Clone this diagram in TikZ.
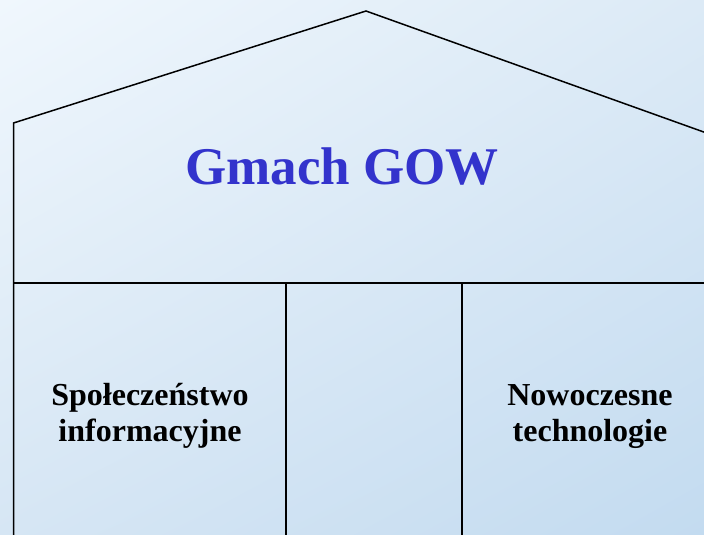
\documentclass[tikz,border=0pt]{standalone}
\usepackage{fontspec}
\setmainfont{Liberation Serif}
\usetikzlibrary{shadings}
\definecolor{bgtl}{HTML}{F0F7FD}
\definecolor{bgtr}{HTML}{DCEAF6}
\definecolor{bgbl}{HTML}{D6E6F4}
\definecolor{bgbr}{HTML}{C3DBF0}
\definecolor{titleblue}{HTML}{3333CC}
\begin{document}
\begin{tikzpicture}[x=1pt, y=-1pt]
			% Define styles for the walls and labels
			\tikzstyle{wall} = [draw=black, line width=1.5pt]
			\tikzstyle{title} = [font=\bfseries\fontsize{53}{60}\selectfont, text=titleblue]
			\tikzstyle{pillar} = [font=\bfseries\fontsize{32}{36}\selectfont, align=center]

			% Background
			\useasboundingbox (0, 0) rectangle (704, 535);
			\shade[upper left=bgtl, upper right=bgtr, lower left=bgbl, lower right=bgbr] (0, 0) rectangle (704, 535);

			% Define the corners of the house
			\coordinate (peak) at (366, 11);
			\coordinate (eaveL) at (13.5, 123);
			\coordinate (eaveR) at (740, 145);
			\coordinate (baseL) at (13.5, 540);
			\coordinate (floorL) at (13.5, 283);
			\coordinate (floorR) at (740, 283);
			\coordinate (colA) at (286, 283);
			\coordinate (colB) at (462, 283);
			\coordinate (colAb) at (286, 540);
			\coordinate (colBb) at (462, 540);

			% Draw the roof and the walls
			\draw[wall] (baseL) -- (eaveL) -- (peak) -- (eaveR);
			\draw[wall] (floorL) -- (floorR);
			\draw[wall] (colA) -- (colAb);
			\draw[wall] (colB) -- (colBb);

			% Place the labels
			\node[title, anchor=base] (gmach) at (342, 184) {Gmach GOW};
			\node[pillar, anchor=base] (spol) at (150, 441) {Społeczeństwo\\informacyjne};
			\node[pillar, anchor=base] (nowo) at (590, 441) {Nowoczesne\\technologie};

\end{tikzpicture}
\end{document}
